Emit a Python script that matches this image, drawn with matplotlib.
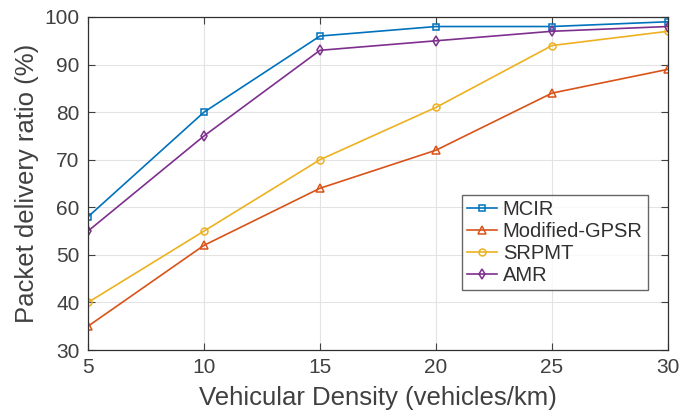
import matplotlib
matplotlib.use("Agg")
from matplotlib import pyplot as plt

plt.rcParams["font.family"] = ["Liberation Sans", "DejaVu Sans"]

density = [5, 10, 15, 20, 25, 30]
mcir = [58, 80, 96, 98, 98, 99]
modified_gpsr = [35, 52, 64, 72, 84, 89]
srpmt = [40, 55, 70, 81, 94, 97]
amr = [55, 75, 93, 95, 97, 98]

text_col = "#404040"

fig = plt.figure(figsize=(6.81, 4.17), dpi=100)
ax = fig.add_axes([88 / 681, 1 - 350 / 417, 580 / 681, 333 / 417])

ax.plot(density, mcir, "-s", color="#0072BD", lw=1.2, ms=4.5, mfc="none", mew=1.1, label="MCIR")
ax.plot(density, modified_gpsr, "-^", color="#D95319", lw=1.2, ms=5.5, mfc="none", mew=1.1, label="Modified-GPSR")
ax.plot(density, srpmt, "-o", color="#EDB120", lw=1.2, ms=5, mfc="none", mew=1.1, label="SRPMT")
ax.plot(density, amr, "-d", color="#7E2F8E", lw=1.2, ms=5.5, mfc="none", mew=1.1, label="AMR")

ax.set_xlim(5, 30)
ax.set_ylim(30, 100)
ax.set_xticks(density)
ax.set_yticks(range(30, 101, 10))
ax.grid(True, color="#e3e3e3", lw=0.8)
ax.set_axisbelow(True)
ax.tick_params(direction="in", top=True, right=True, labelsize=15, colors=text_col, length=5, pad=6)
for s in ax.spines.values():
    s.set_color("#303030")
    s.set_linewidth(0.9)

ax.set_xlabel("Vehicular Density (vehicles/km)", fontsize=18.5, color=text_col, labelpad=6)
ax.set_ylabel("Packet delivery ratio (%)", fontsize=18.5, color=text_col, labelpad=4)

leg = ax.legend(loc="lower right", bbox_to_anchor=(0.965, 0.18), fontsize=14.5, frameon=True,
                fancybox=False, handlelength=1.5, handletextpad=0.3, borderpad=0.25,
                labelspacing=0.15, borderaxespad=0)
leg.get_frame().set_edgecolor("#404040")
leg.get_frame().set_linewidth(1.0)
for t in leg.get_texts():
    t.set_color("#303030")

fig.savefig("out.png", dpi=100)
